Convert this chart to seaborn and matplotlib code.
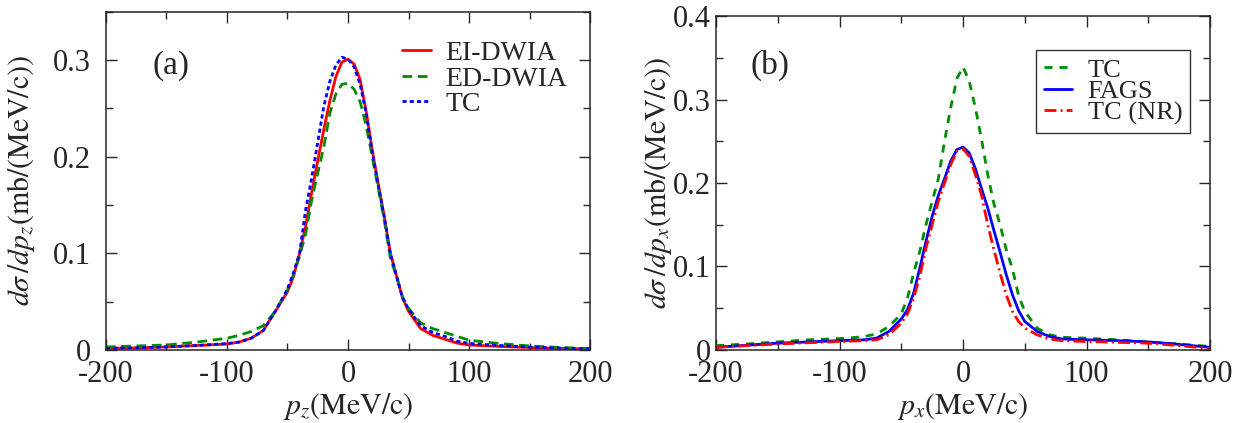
import pandas as pd
import seaborn as sns
import matplotlib.pyplot as plt
from matplotlib.ticker import MultipleLocator, FuncFormatter
from matplotlib.lines import Line2D

# momentum grid (MeV/c), shared by all curves
P = [-200, -175, -150, -125, -100, -90, -80, -70, -60, -50, -45, -40, -35, -30,
     -25, -20, -15, -10, -5, 0, 5, 10, 15, 20, 25, 30, 35, 40, 45, 50, 60, 70,
     80, 90, 100, 125, 150, 175, 200]

# panel (a): d sigma / d p_z
EI_DWIA = [0.0015, 0.002, 0.003, 0.0045, 0.006, 0.008, 0.012, 0.020, 0.040, 0.060,
           0.076, 0.100, 0.128, 0.163, 0.196, 0.228, 0.258, 0.283, 0.298, 0.301,
           0.296, 0.280, 0.247, 0.207, 0.172, 0.138, 0.100, 0.077, 0.054, 0.040,
           0.022, 0.015, 0.011, 0.007, 0.005, 0.0035, 0.0024, 0.0015, 0.0008]
ED_DWIA = [0.003, 0.004, 0.005, 0.008, 0.012, 0.015, 0.019, 0.025, 0.040, 0.062,
           0.078, 0.097, 0.120, 0.155, 0.183, 0.210, 0.245, 0.265, 0.275, 0.276,
           0.270, 0.257, 0.232, 0.200, 0.167, 0.134, 0.095, 0.076, 0.055, 0.043,
           0.028, 0.022, 0.018, 0.014, 0.010, 0.0065, 0.004, 0.0025, 0.0012]
TC_A = [0.0015, 0.002, 0.003, 0.0045, 0.0065, 0.008, 0.012, 0.020, 0.040, 0.063,
        0.080, 0.100, 0.145, 0.178, 0.215, 0.252, 0.278, 0.295, 0.303, 0.301,
        0.293, 0.275, 0.245, 0.205, 0.170, 0.137, 0.100, 0.077, 0.054, 0.042,
        0.025, 0.018, 0.014, 0.009, 0.0066, 0.0045, 0.0028, 0.0018, 0.0009]

# panel (b): d sigma / d p_x
TC_B = [0.005, 0.007, 0.0095, 0.012, 0.0135, 0.0145, 0.016, 0.019, 0.028, 0.043,
        0.062, 0.092, 0.118, 0.150, 0.178, 0.205, 0.250, 0.290, 0.325, 0.339,
        0.322, 0.290, 0.252, 0.210, 0.175, 0.150, 0.120, 0.097, 0.065, 0.046,
        0.026, 0.018, 0.015, 0.0145, 0.014, 0.012, 0.0095, 0.007, 0.004]
FAGS = [0.003, 0.0055, 0.008, 0.0095, 0.011, 0.0115, 0.012, 0.014, 0.022, 0.037,
        0.048, 0.068, 0.098, 0.130, 0.160, 0.185, 0.205, 0.226, 0.240, 0.243,
        0.236, 0.217, 0.193, 0.170, 0.143, 0.117, 0.090, 0.066, 0.047, 0.034,
        0.022, 0.016, 0.013, 0.0125, 0.012, 0.011, 0.0095, 0.0065, 0.003]
TC_NR = [0.003, 0.005, 0.007, 0.0085, 0.010, 0.0105, 0.011, 0.012, 0.018, 0.032,
         0.043, 0.062, 0.088, 0.122, 0.150, 0.178, 0.200, 0.222, 0.238, 0.241,
         0.232, 0.210, 0.185, 0.150, 0.120, 0.092, 0.066, 0.046, 0.034, 0.026,
         0.018, 0.013, 0.011, 0.0105, 0.010, 0.009, 0.008, 0.005, 0.0016]

RED, GREEN, BLUE = "#ff0000", "#008c00", "#0000ff"

sns.set_theme(style="ticks")
plt.rcParams.update({
    "font.family": ["Liberation Serif", "DejaVu Serif"],
    "mathtext.fontset": "stix",
    "axes.unicode_minus": False,
    "axes.linewidth": 1.1,
    "xtick.direction": "in", "ytick.direction": "in",
    "xtick.top": True, "ytick.right": True,
    "xtick.major.size": 8, "ytick.major.size": 8,
    "xtick.minor.size": 5, "ytick.minor.size": 5,
    "xtick.labelsize": 22, "ytick.labelsize": 22,
    "axes.labelsize": 21.5,
})


def long_form(series):
    frames = [pd.DataFrame({"p": P, "val": v, "model": name}) for name, v in series.items()]
    return pd.concat(frames, ignore_index=True)


def style_axes(ax, ymax, ypad):
    ax.set_xlim(-200, 200)
    ax.set_ylim(0, ymax)
    ax.xaxis.set_major_locator(MultipleLocator(100))
    ax.xaxis.set_minor_locator(MultipleLocator(50))
    ax.yaxis.set_major_locator(MultipleLocator(0.1))
    ax.yaxis.set_minor_locator(MultipleLocator(0.05))
    ax.yaxis.set_major_formatter(FuncFormatter(lambda v, _: "0" if abs(v) < 1e-9 else f"{v:.1f}"))
    ax.tick_params(which="both", width=1.0, top=True, right=True)
    ax.tick_params(axis="x", pad=7)
    ax.tick_params(axis="y", pad=ypad)


def draw_panel(ax, series, colors, dashes, order):
    df = long_form(series)
    sns.lineplot(data=df, x="p", y="val", hue="model", style="model",
                 hue_order=order, style_order=order, palette=colors,
                 dashes=dashes, linewidth=2.0, errorbar=None, legend=False, ax=ax)
    handles = [Line2D([], [], color=colors[m], lw=2.0,
                      dashes=dashes[m] if dashes[m] else (None, None),
                      linestyle="-") for m in order]
    return handles


fig = plt.figure(figsize=(12.38, 4.23), dpi=100)
ax_a = fig.add_axes([0.0856, 0.173, 0.391, 0.799])
ax_b = fig.add_axes([0.5784, 0.173, 0.399, 0.789])

# (a)
order_a = ["EI-DWIA", "ED-DWIA", "TC"]
h_a = draw_panel(
    ax_a, {"EI-DWIA": EI_DWIA, "ED-DWIA": ED_DWIA, "TC": TC_A},
    {"EI-DWIA": RED, "ED-DWIA": GREEN, "TC": BLUE},
    {"EI-DWIA": "", "ED-DWIA": (3.5, 2), "TC": (1.5, 1.1)}, order_a)
style_axes(ax_a, 0.35, 11)
ax_a.set_xlabel(r"$p_z(\mathrm{MeV/c})$", labelpad=2)
ax_a.set_ylabel(r"$d\sigma\,/dp_z(\mathrm{mb}/(\mathrm{MeV/c}))$", labelpad=11)
ax_a.text(0.134, 0.84, "(a)", transform=ax_a.transAxes, fontsize=24,
          ha="center", va="center")
ax_a.legend(h_a, order_a, loc="upper left", bbox_to_anchor=(0.572, 0.972),
            frameon=False, fontsize=20, handlelength=1.05, handletextpad=0.5,
            labelspacing=0.0, borderpad=0.2)

# (b)
order_b = ["TC", "FAGS", "TC (NR)"]
h_b = draw_panel(
    ax_b, {"TC": TC_B, "FAGS": FAGS, "TC (NR)": TC_NR},
    {"TC": GREEN, "FAGS": BLUE, "TC (NR)": RED},
    {"TC": (2.9, 2.5), "FAGS": "", "TC (NR)": (4.3, 1.5, 0.7, 1.5)}, order_b)
style_axes(ax_b, 0.4, 4)
ax_b.set_xlabel(r"$p_x(\mathrm{MeV/c})$", labelpad=2)
ax_b.set_ylabel(r"$d\sigma\,/dp_x(\mathrm{mb}/(\mathrm{MeV/c}))$", labelpad=-1)
ax_b.text(0.109, 0.852, "(b)", transform=ax_b.transAxes, fontsize=24,
          ha="center", va="center")
leg = ax_b.legend(h_b, order_b, loc="upper left", bbox_to_anchor=(0.648, 0.898),
                  frameon=True, fancybox=False, edgecolor="black", fontsize=19,
                  handlelength=1.05, handletextpad=0.6, labelspacing=-0.08,
                  borderpad=0.3, borderaxespad=0)
leg.get_frame().set_linewidth(1.0)

fig.savefig("out.png", dpi=100)
plt.close(fig)
